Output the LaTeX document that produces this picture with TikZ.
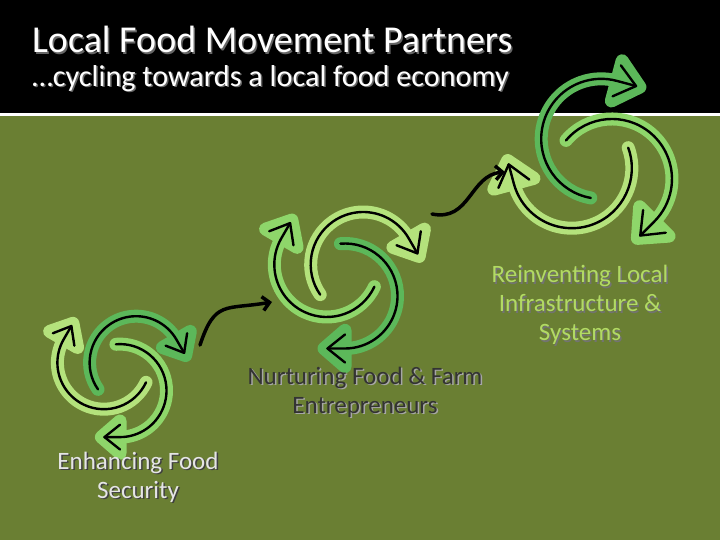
\documentclass[tikz,border=0pt]{standalone}
\usepackage{fontspec}
\setmainfont{Carlito}
\usetikzlibrary{arrows.meta}
\definecolor{bg}{HTML}{6A7F33}
\definecolor{cdark}{HTML}{5CB85A}
\definecolor{cmed}{HTML}{8ED66A}
\definecolor{clight}{HTML}{B4E27C}
\definecolor{lbl}{HTML}{B2DA64}
\tikzset{
  band/.style={line width=13pt,line cap=round,line join=round},
  core/.style={black,line width=2.4pt,line cap=round,line join=round},
  conn/.style={black,line width=3.5pt,line cap=round,-{Straight Barb[length=7pt,width=14pt,line width=3.5pt]}},
  lab/.style={align=center,font=\fontsize{25}{29}\selectfont}
}
\newcommand\onearc[2]{%
  \pgfmathsetmacro\cx{0.3*cos(30+120*#1)}\pgfmathsetmacro\cy{0.3*sin(30+120*#1)}
  \pgfmathsetmacro\sa{215+120*#1}\pgfmathsetmacro\ea{30+120*#1}
  \pgfmathsetmacro\ex{\cx+0.75*cos(\ea)}\pgfmathsetmacro\ey{\cy+0.75*sin(\ea)}
  \pgfmathsetmacro\tx{sin(\ea)}\pgfmathsetmacro\ty{-cos(\ea)}
  \pgfmathsetmacro\nx{cos(\ea)}\pgfmathsetmacro\ny{sin(\ea)}
  \draw[band,#2] ({\cx+0.75*cos(\sa)},{\cy+0.75*sin(\sa)}) arc[radius=0.75,start angle=\sa,end angle=\ea];
  \filldraw[band,#2] ({\ex+0.3*\tx},{\ey+0.3*\ty}) -- ({\ex+0.26*\nx},{\ey+0.26*\ny}) -- ({\ex-0.26*\nx},{\ey-0.26*\ny}) -- cycle;
  \draw[core] ({\cx+0.75*cos(\sa)},{\cy+0.75*sin(\sa)}) arc[radius=0.75,start angle=\sa,end angle=\ea] -- ({\ex+0.25*\tx},{\ey+0.25*\ty});
  \draw[core] ({\ex+0.2*\nx},{\ey+0.2*\ny}) -- ({\ex+0.25*\tx},{\ey+0.25*\ty}) -- ({\ex-0.2*\nx},{\ey-0.2*\ny});}
\newcommand\cyc[7]{%
  \begin{scope}[shift={(#1,#2)},yscale=-1,scale=#3,rotate=#4]
  \onearc{1}{#6}\onearc{2}{#7}\onearc{0}{#5}
  \end{scope}}
\newcommand\shtext[6]{% name, x, y, color, shadowcolor, text
  \node[lab,text=#5] at (#2+1.5,#3+1.5) {#6};
  \node[lab,text=#4] (#1) at (#2,#3) {#6};}
\begin{document}
\begin{tikzpicture}[x=1pt,y=-1pt]
\useasboundingbox (0,0) rectangle (720,540);
\fill[bg] (0,0) rectangle (720,540);
\fill[black] (0,0) rectangle (720,113);
\draw[white,line width=3pt] (0,114.5) -- (720,114.5);
% titles
\node[anchor=west,text=black!60,font=\fontsize{38}{40}\selectfont] at (30,41) {Local Food Movement Partners};
\node[anchor=west,text=white,font=\fontsize{38}{40}\selectfont] (title) at (28.5,39.5) {Local Food Movement Partners};
\node[anchor=west,text=black!60,font=\fontsize{30.2}{32}\selectfont] at (30,80) {\ldots cycling towards a local food economy};
\node[anchor=west,text=white,font=\fontsize{30.2}{32}\selectfont] (sub) at (28.5,78.5) {\ldots cycling towards a local food economy};
% cycles
\cyc{120}{372}{62}{0}{cdark}{clight}{cmed}
\cyc{345}{275}{70}{0}{clight}{cmed}{cdark}
\cyc{595}{162}{80}{-45}{cdark}{clight}{cmed}
% connectors
\coordinate (a1) at (200,345); \coordinate (a2) at (272,302);
\coordinate (b1) at (432,214); \coordinate (b2) at (505,172);
\draw[conn] (a1) .. controls (215,300) and (225,310) .. (a2);
\draw[conn] (b1) .. controls (470,222) and (470,175) .. (b2);
% labels
\shtext{l1}{138}{477}{black!10}{black!75}{Enhancing Food\\Security}
\shtext{l2}{365}{392}{black!80}{black!35}{Nurturing Food \& Farm\\Entrepreneurs}
\shtext{l3}{580}{305}{lbl}{black!55}{Reinventing Local\\Infrastructure \&\\Systems}
\end{tikzpicture}
\end{document}
